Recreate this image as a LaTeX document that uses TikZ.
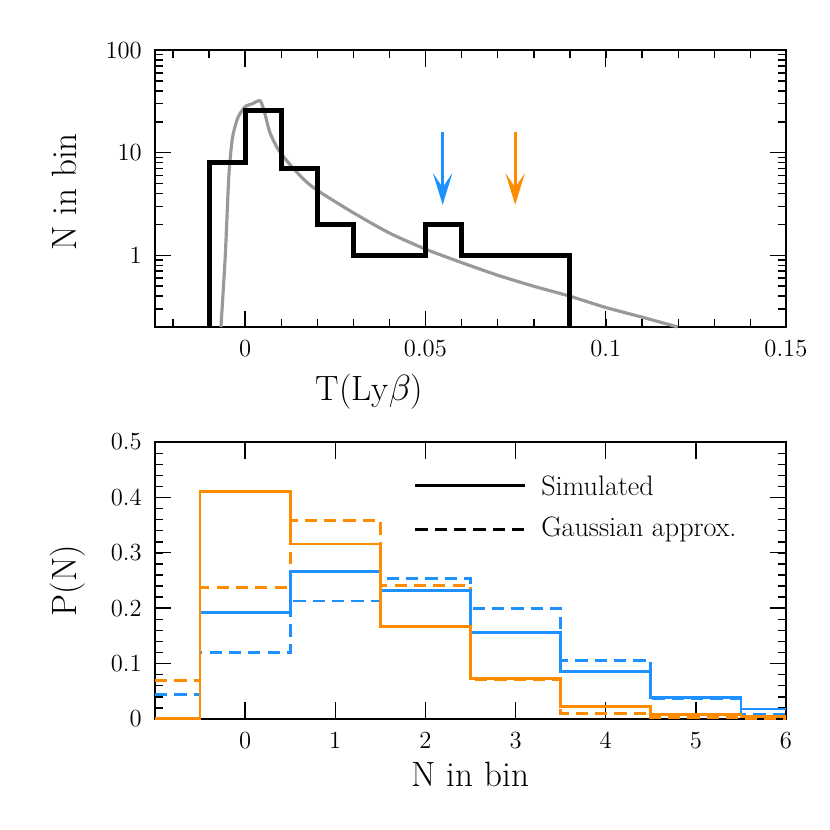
\documentclass[tikz,border=0pt]{standalone}
\usetikzlibrary{arrows.meta}
\definecolor{simblue}{RGB}{30,144,255}
\definecolor{simorange}{RGB}{255,140,0}
\tikzset{
  frame/.style = {line width=0.8pt},
  hist/.style = {line width=2.8pt, line join=miter},
  model/.style = {line width=1.8pt, gray!80},
  bluehist/.style = {line width=1.6pt, simblue},
  orangehist/.style = {line width=1.6pt, simorange},
  gauss/.style = {dash pattern=on 7pt off 4pt},
  pointer/.style = {-{Stealth[length=18pt, width=11pt, inset=8pt]}},
  ticklabel/.style = {font=\fontsize{14}{16}\selectfont},
  legendlabel/.style = {font=\fontsize{16}{18}\selectfont},
  axislabel/.style = {font=\fontsize{20}{24}\selectfont}
}
\begin{document}
\begin{tikzpicture}
  \useasboundingbox (0,0) rectangle (16.6,16.6);
  % upper panel: T vs log N
  \begin{scope}[shift={(4.902,11.494)}, x=72.11cm, y=2.052cm]
    \draw[frame] (-0.025,-0.699) rectangle (0.15,2);
    \foreach \t in {-0.02,-0.01,...,0.15} {
      \draw[frame] (\t,-0.699) -- ++(0,0.08);
      \draw[frame] (\t,2) -- ++(0,-0.08);
    }
    \foreach \t in {0,0.05,0.1} {
      \draw[frame] (\t,-0.699) -- ++(0,0.16);
      \draw[frame] (\t,2) -- ++(0,-0.16);
    }
    \foreach \d in {-1,0,1} {
      \foreach \m in {2,...,9} {
        \pgfmathsetmacro\ly{\d+log10(\m)}
        \ifdim\ly pt>-0.7pt
          \draw[frame] (-0.025,\ly) -- ++(0.0022,0);
          \draw[frame] (0.15,\ly) -- ++(-0.0022,0);
        \fi
      }
    }
    \foreach \d in {0,1} {
      \draw[frame] (-0.025,\d) -- ++(0.0045,0);
      \draw[frame] (0.15,\d) -- ++(-0.0045,0);
    }
    \foreach \t/\lab in {0/0,0.05/0.05,0.1/0.1,0.15/0.15}
      \node[ticklabel, below=4pt] (tx\lab) at (\t,-0.699) {\lab};
    \foreach \d/\lab in {0/1,1/10,2/100}
      \node[ticklabel, left=4pt] (ty\lab) at (-0.025,\d) {\lab};
    \draw[model] plot[smooth, tension=0.4] coordinates {(-0.0067,-0.699) (-0.0055,{log10(1)})
      (-0.0045,{log10(6)}) (-0.0035,{log10(14)}) (-0.002,{log10(22)}) (0,{log10(28)})
      (0.002,{log10(30)}) (0.0042,{log10(32)}) (0.0055,{log10(24)}) (0.0068,{log10(16)})
      (0.009,{log10(11)}) (0.012,{log10(8)}) (0.016,{log10(5.6)}) (0.02,{log10(4.3)})
      (0.03,{log10(2.6)}) (0.04,{log10(1.65)}) (0.05,{log10(1.15)}) (0.06,{log10(0.85)})
      (0.07,{log10(0.64)}) (0.08,{log10(0.5)}) (0.09,{log10(0.4)}) (0.1,{log10(0.31)})
      (0.11,{log10(0.25)}) (0.12,-0.699)};
    \draw[hist] (-0.01,-0.699) -- (-0.01,{log10(8)}) -- (0,{log10(8)}) -- (0,{log10(26)})
      -- (0.01,{log10(26)}) -- (0.01,{log10(7)}) -- (0.02,{log10(7)}) -- (0.02,{log10(2)})
      -- (0.03,{log10(2)}) -- (0.03,0) -- (0.05,0) -- (0.05,{log10(2)}) -- (0.06,{log10(2)})
      -- (0.06,0) -- (0.09,0) -- (0.09,-0.699);
    \coordinate (bluetop) at (0.0548,{log10(16)});
    \coordinate (bluetip) at (0.0548,{log10(3.1)});
    \coordinate (orangetop) at (0.0749,{log10(16)});
    \coordinate (orangetip) at (0.0749,{log10(3.1)});
    \draw[bluehist, pointer] (bluetop) -- (bluetip);
    \draw[orangehist, pointer] (orangetop) -- (orangetip);
    \node[axislabel] (toplabelx) at (0.0345,-1.33) {T(Ly$\beta$)};
    \node[axislabel, rotate=90] (toplabely) at (-0.0502,0.62) {N in bin};
  \end{scope}
  % lower panel: P(N)
  \begin{scope}[shift={(4.902,2.22)}, x=1.8029cm, y=11.08cm]
    \draw[frame] (-1,0) rectangle (6,0.5);
    \foreach \n in {0,...,5} {
      \draw[frame] (\n,0) -- ++(0,0.03);
      \draw[frame] (\n,0.5) -- ++(0,-0.03);
    }
    \foreach \p in {0.02,0.04,...,0.49} {
      \draw[frame] (-1,\p) -- ++(0.09,0);
      \draw[frame] (6,\p) -- ++(-0.09,0);
    }
    \foreach \p in {0.1,0.2,0.3,0.4} {
      \draw[frame] (-1,\p) -- ++(0.18,0);
      \draw[frame] (6,\p) -- ++(-0.18,0);
    }
    \foreach \n in {0,...,6}
      \node[ticklabel, below=4pt] (bx\n) at (\n,0) {\n};
    \foreach \p in {0,0.1,0.2,0.3,0.4,0.5}
      \node[ticklabel, left=4pt] (by\p) at (-1,\p) {\p};
    \draw[orangehist, gauss] (-1,0.070) -- (-0.5,0.070) -- (-0.5,0.238) -- (0.5,0.238)
      -- (0.5,0.358) -- (1.5,0.358) -- (1.5,0.241) -- (2.5,0.241) -- (2.5,0.072)
      -- (3.5,0.072) -- (3.5,0.0096) -- (4.5,0.0096) -- (4.5,0.002) -- (5.5,0.002)
      -- (5.5,0.001) -- (6,0.001);
    \draw[bluehist, gauss] (-1,0.044) -- (-0.5,0.044) -- (-0.5,0.120) -- (0.5,0.120)
      -- (0.5,0.213) -- (1.5,0.213) -- (1.5,0.254) -- (2.5,0.254) -- (2.5,0.200)
      -- (3.5,0.200) -- (3.5,0.106) -- (4.5,0.106) -- (4.5,0.036) -- (5.5,0.036)
      -- (5.5,0.009) -- (6,0.009);
    \draw[bluehist] (-0.5,0.192) -- (0.5,0.192) -- (0.5,0.266) -- (1.5,0.266)
      -- (1.5,0.232) -- (2.5,0.232) -- (2.5,0.156) -- (3.5,0.156) -- (3.5,0.086)
      -- (4.5,0.086) -- (4.5,0.039) -- (5.5,0.039) -- (5.5,0.018) -- (6,0.018);
    \draw[orangehist] (-1,0.001) -- (-0.5,0.001) -- (-0.5,0.411) -- (0.5,0.411)
      -- (0.5,0.316) -- (1.5,0.316) -- (1.5,0.167) -- (2.5,0.167) -- (2.5,0.073)
      -- (3.5,0.073) -- (3.5,0.023) -- (4.5,0.023) -- (4.5,0.008) -- (5.5,0.008)
      -- (5.5,0.004) -- (6,0.004);
    % legend
    \coordinate (simA) at (1.89,0.421);
    \coordinate (simB) at (3.10,0.421);
    \coordinate (gauA) at (1.89,0.342);
    \coordinate (gauB) at (3.10,0.342);
    \draw[line width=1.8pt] (simA) -- (simB);
    \draw[line width=1.8pt, gauss] (gauA) -- (gauB);
    \node[legendlabel, right=6pt] (simtext) at (simB) {Simulated};
    \node[legendlabel, right=6pt] (gautext) at (gauB) {Gaussian approx.};
    \node[axislabel] (botlabelx) at (2.5,-0.1) {N in bin};
    \node[axislabel, rotate=90] (botlabely) at (-1.97,0.25) {P(N)};
  \end{scope}
\end{tikzpicture}
\end{document}
